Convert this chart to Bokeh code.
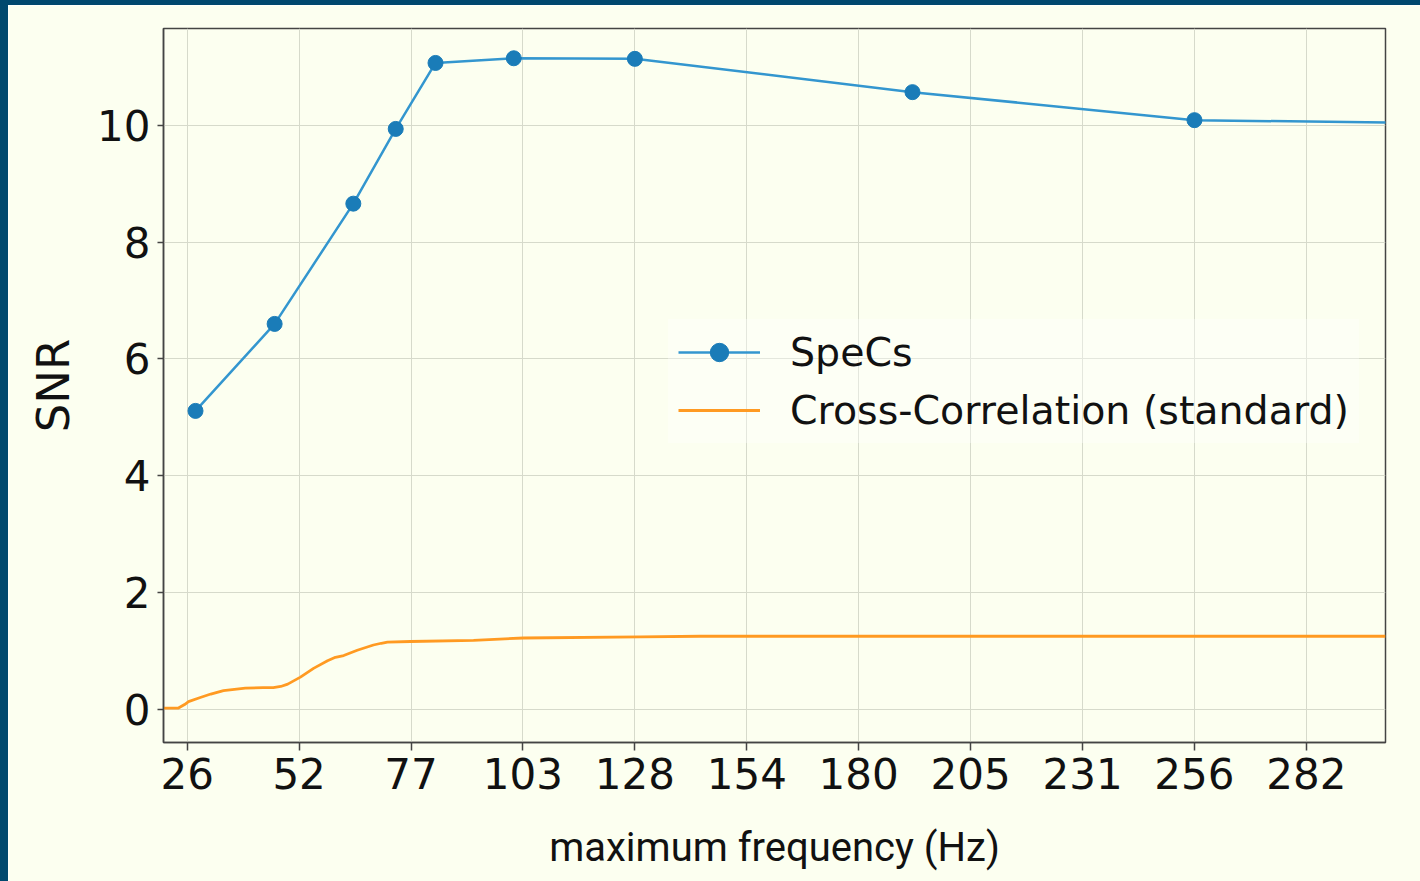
from bokeh.plotting import figure
from bokeh.models import (Range1d, FixedTicker, Legend, LegendItem, Div)
from bokeh.layouts import row, column
from bokeh.embed import file_html
from bokeh.resources import INLINE

# SpeCs SNR at each maximum frequency (Hz)
specs_freq = [27.5, 45.6, 63.6, 73.3, 82.4, 100.3, 128.0, 191.5, 256.0, 384.0]
specs_snr = [5.11, 6.60, 8.66, 9.94, 11.07, 11.15, 11.14, 10.57, 10.09, 9.97]

# standard cross-correlation SNR
xcorr_freq = [20.2, 23.6, 25.0, 25.9, 28.6, 31.0, 33.9, 38.9, 43.0, 45.3, 47.0,
              48.6, 51.5, 54.5, 57.7, 59.5, 61.4, 64.5, 68.2, 70.0, 71.4, 76.7,
              91.1, 102.5, 129.3, 143.0, 299.7]
xcorr_snr = [0.02, 0.02, 0.08, 0.13, 0.20, 0.26, 0.32, 0.36, 0.37, 0.37, 0.39,
             0.43, 0.55, 0.70, 0.83, 0.89, 0.92, 1.01, 1.10, 1.13, 1.15, 1.16,
             1.18, 1.22, 1.24, 1.25, 1.25]

x_ticks = [25.6, 51.2, 76.8, 102.4, 128.0, 153.6, 179.2, 204.8, 230.4, 256.0, 281.6]
x_tick_labels = ["26", "52", "77", "103", "128", "154", "180", "205", "231", "256", "282"]
y_ticks = [0, 2, 4, 6, 8, 10]

BG = "#fcfff0"
FRAME = "#00486e"
BLUE_LINE = "#3396cf"
BLUE_DOT = "#1a7cb8"
ORANGE = "#ff9a22"

p = figure(width=1412, height=876, output_backend="svg", toolbar_location=None,
           x_range=Range1d(20.18, 299.7), y_range=Range1d(-0.57, 11.66),
           min_border_left=155, min_border_right=35, min_border_top=23,
           min_border_bottom=139, margin=(0, 0, 0, 0))
p.background_fill_color = BG
p.border_fill_color = BG
p.outline_line_color = "#444444"
p.outline_line_width = 1.5

p.xaxis.ticker = FixedTicker(ticks=x_ticks)
p.xaxis.major_label_overrides = dict(zip(x_ticks, x_tick_labels))
p.yaxis.ticker = FixedTicker(ticks=y_ticks)

for ax in (p.xaxis, p.yaxis):
    ax.axis_line_color = "#444444"
    ax.axis_line_width = 1.5
    ax.major_tick_line_color = "#444444"
    ax.major_tick_line_width = 1.5
    ax.major_tick_in = 0
    ax.minor_tick_line_color = None
    ax.major_label_text_font = "DejaVu Sans"
    ax.major_label_text_font_size = "42px"
    ax.major_label_text_color = "#111111"
    ax.axis_label_text_font_style = "normal"
    ax.axis_label_text_color = "#111111"

p.xaxis.major_tick_out = 8
p.xaxis.major_label_standoff = 7
p.yaxis.major_tick_out = 6
p.yaxis.major_label_standoff = 7

p.xaxis.axis_label = "maximum frequency (Hz)"
p.xaxis.axis_label_text_font = "Roboto"
p.xaxis.axis_label_text_font_size = "40px"
p.xaxis.axis_label_standoff = 32

p.yaxis.axis_label = "SNR"
p.yaxis.axis_label_text_font = "DejaVu Sans"
p.yaxis.axis_label_text_font_size = "45px"
p.yaxis.axis_label_standoff = 14

p.xgrid.grid_line_color = "#d6dacb"
p.ygrid.grid_line_color = "#d6dacb"
p.xgrid.grid_line_width = 1
p.ygrid.grid_line_width = 1

xc_line = p.line(xcorr_freq, xcorr_snr, line_color=ORANGE, line_width=2.8)
sp_line = p.line(specs_freq, specs_snr, line_color=BLUE_LINE, line_width=2.5)
sp_dots = p.scatter(specs_freq, specs_snr, size=15, fill_color=BLUE_DOT,
                    line_color=BLUE_DOT)

legend = Legend(items=[
    LegendItem(label="SpeCs", renderers=[sp_line, sp_dots]),
    LegendItem(label="Cross-Correlation (standard)", renderers=[xc_line]),
], location=(505, 299))
legend.label_text_font = "DejaVu Sans"
legend.label_text_font_size = "39.5px"
legend.label_text_color = "#111111"
legend.glyph_width = 82
legend.glyph_height = 46
legend.label_height = 46
legend.label_standoff = 30
legend.spacing = 12
legend.padding = 10
legend.margin = 0
legend.border_line_alpha = 0
legend.background_fill_color = "#ffffff"
legend.background_fill_alpha = 0.35
p.add_layout(legend, "center")

# dark blue slide frame along the left and top edges
left_bar = Div(width=8, height=881, margin=(0, 0, 0, 0),
               styles={"background-color": FRAME})
top_bar = Div(width=1412, height=5, margin=(0, 0, 0, 0),
              styles={"background-color": FRAME})
page = row(left_bar, column(top_bar, p, spacing=0, margin=(0, 0, 0, 0)),
           spacing=0, margin=(0, 0, 0, 0))

open("out.html", "w").write(file_html(page, INLINE))
